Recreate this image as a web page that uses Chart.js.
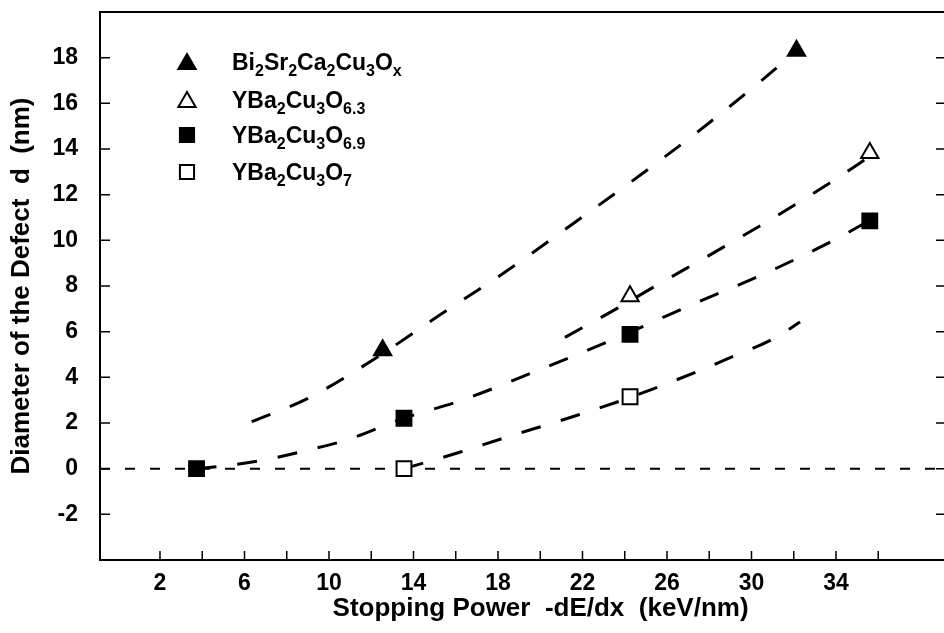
<!DOCTYPE html>
<html><head><meta charset="utf-8">
<script src="https://cdn.jsdelivr.net/npm/chart.js@4.4.0/dist/chart.umd.min.js"></script>
<style>html,body{margin:0;padding:0;overflow:hidden;background:#fff}#wrap{width:950px;height:633px;position:relative}</style>
</head><body><div id="wrap"><canvas id="c"></canvas></div>
<script>
// ---- data ----
const xTickLabels = ['2','6','10','14','18','22','26','30','34'];
const yTickLabels = ['-2','0','2','4','6','8','10','12','14','16','18'];

const seriesNames = ['Bi{2}Sr{2}Ca{2}Cu{3}O{x}', 'YBa{2}Cu{3}O{6.3}', 'YBa{2}Cu{3}O{6.9}', 'YBa{2}Cu{3}O{7}'];

const biX  = [12.54, 32.13];
const biY  = [5.19, 18.3];
const y63X = [24.25, 35.6];
const y63Y = [7.55, 13.83];
const y69X = [3.73, 13.55, 24.25, 35.6];
const y69Y = [0, 2.21, 5.88, 10.85];
const y7X  = [13.55, 24.25];
const y7Y  = [0, 3.15];

// dashed guide curves
const biFitX  = [6.34, 9.0, 12.26, 15.1, 18.65, 21.73, 24.87, 27.88, 30.5, 32.13];
const biFitY  = [2.06, 3.08, 4.87, 6.64, 8.81, 10.85, 12.95, 15.06, 17.02, 18.3];
const y63FitX = [21.17, 23.64, 25.34, 28.65, 31.96, 35.14, 35.45];
const y63FitY = [5.75, 7.02, 7.94, 9.69, 11.5, 13.39, 13.6];
const y69FitX = [3.73, 5.16, 7.13, 8.94, 10.84, 13.55, 16.3, 19.9, 23.44, 27.1, 30.64, 34.1, 35.6];
const y69FitY = [0, 0.13, 0.42, 0.8, 1.26, 2.21, 3.0, 4.31, 5.65, 7.15, 8.55, 10.1, 10.88];
const y7FitX  = [13.55, 16.3, 18.1, 21.79, 24.25, 27.4, 29.14, 30.96, 32.3];
const y7FitY  = [0, 0.75, 1.29, 2.35, 3.12, 4.24, 4.92, 5.65, 6.42];
const zeroX   = [-0.84, 39.3];
const zeroY   = [0, 0];

const X_MIN = -0.84, X_MAX = 39.16, Y_MIN = -4, Y_MAX = 20;
// ---------------------------------------

const FONT = "'Liberation Sans', Arial, Helvetica, sans-serif";
const pts = (xs, ys) => xs.map((x, i) => ({x, y: ys[i]}));

function markerDs(xs, ys, style, filled, r) {
  return {type:'scatter', data: pts(xs, ys), pointStyle: style, pointRadius: r, pointHoverRadius: r,
    pointBackgroundColor: filled ? '#000' : '#fff', pointBorderColor:'#000', pointBorderWidth: 2,
    showLine:false, order:0};
}
function curveDs(xs, ys, dash, w) {
  return {type:'line', data: pts(xs, ys), borderColor:'#000', borderWidth: w, borderDash: dash,
    pointRadius:0, pointHoverRadius:0, fill:false, tension:0.4, cubicInterpolationMode:'monotone', order:1};
}

const legendStyles = [['triangle', true, 10], ['triangle', false, 10], ['rect', true, 10], ['rect', false, 10]];

const frame = {
  id:'frame',
  afterDatasetsDraw(chart) {
    const {ctx, chartArea:a, scales:{x, y}} = chart;
    ctx.save();
    ctx.strokeStyle = '#000';
    ctx.lineWidth = 2;
    ctx.beginPath();
    ctx.moveTo(a.left, a.top); ctx.lineTo(a.right, a.top);
    ctx.moveTo(a.right, a.top); ctx.lineTo(a.right, a.bottom);
    ctx.stroke();
    ctx.lineWidth = 1.5;
    ctx.beginPath();
    x.ticks.forEach(t => { const p = x.getPixelForValue(t.value); if (p > a.left + 3 && p < a.right - 3) { ctx.moveTo(p, a.bottom); ctx.lineTo(p, a.bottom - 9); } });
    y.ticks.forEach(t => { const p = y.getPixelForValue(t.value); if (p > a.top + 3 && p < a.bottom - 3) {
      ctx.moveTo(a.left, p); ctx.lineTo(a.left + 10, p);
      ctx.moveTo(a.right, p); ctx.lineTo(a.right - 9, p); } });
    ctx.stroke();

    // legend with subscripts
    const rows = [62, 100, 135, 172];
    seriesNames.forEach((name, i) => {
      const [st, filled, r] = legendStyles[i];
      ctx.fillStyle = filled ? '#000' : '#fff';
      ctx.strokeStyle = '#000';
      ctx.lineWidth = 2;
      Chart.helpers.drawPoint(ctx, {pointStyle: st, radius: r, rotation: 0, borderWidth: 2}, 187, rows[i] + (st === 'triangle' ? 2 : 0));
      let cx = 232;
      const parts = name.split(/(\{[^}]*\})/).filter(s => s.length);
      ctx.fillStyle = '#000';
      ctx.textBaseline = 'alphabetic';
      ctx.textAlign = 'left';
      parts.forEach(p => {
        if (p[0] === '{') {
          const s = p.slice(1, -1);
          ctx.font = `bold 16px ${FONT}`;
          ctx.fillText(s, cx, rows[i] + 14);
          cx += ctx.measureText(s).width;
        } else {
          ctx.font = `bold 23px ${FONT}`;
          ctx.fillText(p, cx, rows[i] + 8);
          cx += ctx.measureText(p).width;
        }
      });
    });
    ctx.restore();
  }
};

new Chart(document.getElementById('c'), {
  type:'scatter',
  data:{ datasets:[
    curveDs(zeroX, zeroY, [10, 15], 2),
    curveDs(biFitX, biFitY, [20, 21], 3),
    curveDs(y63FitX, y63FitY, [20, 21], 3),
    curveDs(y69FitX, y69FitY, [20, 21], 3),
    curveDs(y7FitX, y7FitY, [20, 21], 3),
    markerDs(biX, biY, 'triangle', true, 10),
    markerDs(y63X, y63Y, 'triangle', false, 10),
    markerDs(y69X, y69Y, 'rect', true, 10.5),
    markerDs(y7X, y7Y, 'rect', false, 10.5),
  ]},
  options:{
    responsive:true, maintainAspectRatio:false, animation:false,
    layout:{autoPadding:false, padding:{left:0, right:5, top:12, bottom:0}},
    plugins:{legend:{display:false}, tooltip:{enabled:false}},
    scales:{
      x:{type:'linear', min:X_MIN, max:X_MAX,
        afterBuildTicks(s){ const t=[]; for(let v=2; v<=36; v+=2) t.push({value:v}); s.ticks=t; },
        afterFit(s){ s.height = 73; s.paddingLeft = 0; s.paddingRight = 0; },
        grid:{display:true, drawOnChartArea:false, drawTicks:false},
        border:{display:true, color:'#000', width:2},
        ticks:{color:'#000', padding:10, maxRotation:0, autoSkip:false, font:{family:FONT, size:23, weight:'bold'},
          callback(v){ const s = String(v); return xTickLabels.includes(s) ? s : ''; }},
        title:{display:true, text:'     Stopping Power  -dE/dx  (keV/nm)', color:'#000', font:{family:FONT, size:26, weight:'bold'}, padding:{top:0, bottom:9}}
      },
      y:{type:'linear', min:Y_MIN, max:Y_MAX,
        afterBuildTicks(s){ const t=[]; for(let v=-4; v<=20; v+=2) t.push({value:v}); s.ticks=t; },
        afterFit(s){ s.width = 100; s.paddingTop = 0; s.paddingBottom = 0; },
        grid:{display:true, drawOnChartArea:false, drawTicks:false},
        border:{display:true, color:'#000', width:2},
        ticks:{color:'#000', padding:22, autoSkip:false, font:{family:FONT, size:23, weight:'bold'},
          callback(v){ const s = String(v); return yTickLabels.includes(s) ? s : ''; }},
        title:{display:true, text:'Diameter of the Defect  d  (nm)', color:'#000', font:{family:FONT, size:26, weight:'bold'}, padding:{top:6, bottom:0}}
      }
    }
  },
  plugins:[frame]
});
</script></body></html>
